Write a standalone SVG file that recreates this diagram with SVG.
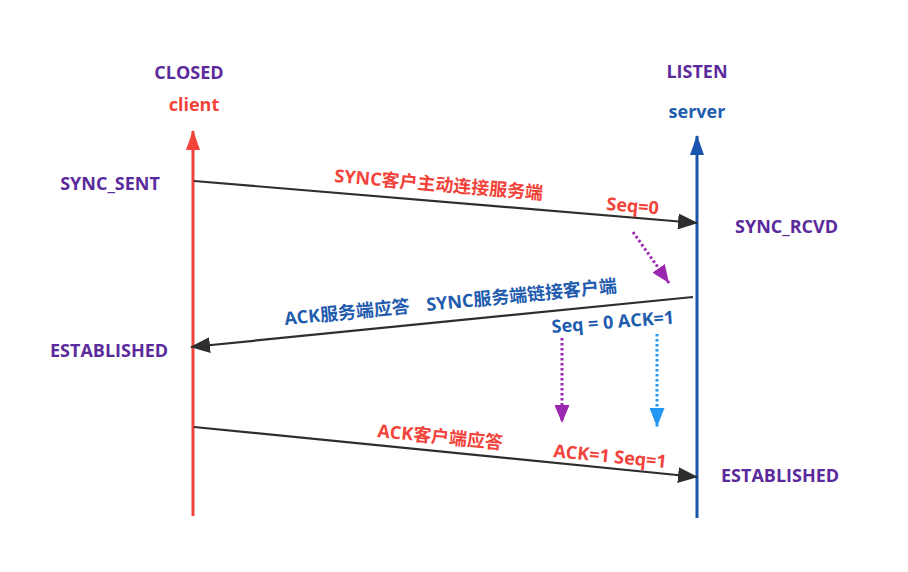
<svg xmlns="http://www.w3.org/2000/svg" width="908" height="572" viewBox="0 0 908 572">
<style>
text{font-family:"Open Sans","Noto Sans CJK SC",sans-serif;font-weight:bold;font-size:18px}
.st{fill:#5b2a9c}
.red{fill:#f2433b}
.blue{fill:#1f5cae}
.conn{stroke:#2e2e2e;stroke-width:2.2;fill:none}
.dot{stroke-width:3;stroke-dasharray:2.5 2.5;fill:none}
</style>
<defs>
<marker id="ah" viewBox="0 0 20 16" refX="19" refY="8" markerWidth="20" markerHeight="16" markerUnits="userSpaceOnUse" orient="auto">
<path d="M0,0 L20,8 L0,16 Z" fill="#2e2e2e"/>
</marker>
<marker id="ahp" viewBox="0 0 18 15" refX="18" refY="7.5" markerWidth="18" markerHeight="15" markerUnits="userSpaceOnUse" orient="auto">
<path d="M0,0 L18,7.5 L0,15 Z" fill="#9b27b0"/>
</marker>
<marker id="ahb" viewBox="0 0 19 15" refX="19" refY="7.5" markerWidth="19" markerHeight="15" markerUnits="userSpaceOnUse" orient="auto">
<path d="M0,0 L19,7.5 L0,15 Z" fill="#2196f3"/>
</marker>
<marker id="ahr" viewBox="0 0 20 14" refX="19" refY="7" markerWidth="20" markerHeight="14" markerUnits="userSpaceOnUse" orient="auto">
<path d="M0,0 L20,7 L0,14 Z" fill="#f2433b"/>
</marker>
<marker id="ahs" viewBox="0 0 20 14" refX="19" refY="7" markerWidth="20" markerHeight="14" markerUnits="userSpaceOnUse" orient="auto">
<path d="M0,0 L20,7 L0,14 Z" fill="#1a55ad"/>
</marker>
</defs>
<rect width="908" height="572" fill="#ffffff"/>

<g id="client">
<line x1="193" y1="516" x2="193" y2="131" stroke="#f2433b" stroke-width="3" marker-end="url(#ahr)"/>
<text x="189" y="79" text-anchor="middle" class="st">CLOSED</text>
<text x="194" y="111" text-anchor="middle" class="red">client</text>
</g>

<g id="server">
<line x1="697" y1="518" x2="697" y2="136" stroke="#1a55ad" stroke-width="3" marker-end="url(#ahs)"/>
<text x="697" y="78" text-anchor="middle" class="st">LISTEN</text>
<text x="697" y="118" text-anchor="middle" class="blue">server</text>
</g>

<g id="states">
<text x="110" y="190" text-anchor="middle" class="st">SYNC_SENT</text>
<text x="735" y="233" class="st">SYNC_RCVD</text>
<text x="50" y="357" class="st">ESTABLISHED</text>
<text x="721" y="482" class="st">ESTABLISHED</text>
</g>

<g id="connectors">
<line class="conn" x1="194" y1="181" x2="697" y2="223" marker-end="url(#ah)"/>
<line class="conn" x1="693" y1="297" x2="191" y2="347" marker-end="url(#ah)"/>
<line class="conn" x1="194" y1="427" x2="697" y2="477" marker-end="url(#ah)"/>
<line class="dot" x1="633" y1="232" x2="669" y2="283" stroke="#9b27b0" marker-end="url(#ahp)"/>
<line class="dot" x1="562" y1="338" x2="562" y2="423" stroke="#9b27b0" marker-end="url(#ahp)"/>
<line class="dot" x1="657" y1="334" x2="657" y2="427" stroke="#2196f3" marker-end="url(#ahb)"/>
</g>

<g id="labels">
<text x="334" y="182" class="red" transform="rotate(4.8 334 182)">SYNC客户主动连接服务端</text>
<text x="606" y="210" class="red" transform="rotate(4.8 606 210)">Seq=0</text>
<text x="285" y="325" class="blue" transform="rotate(-5.7 285 325)">ACK服务端应答</text>
<text x="427" y="311" class="blue" transform="rotate(-5.7 427 311)">SYNC服务端链接客户端</text>
<text x="552" y="333" class="blue" transform="rotate(-4.5 552 333)">Seq = 0 ACK=1</text>
<text x="377" y="437" class="red" transform="rotate(5.6 377 437)">ACK客户端应答</text>
<text x="553" y="457" class="red" transform="rotate(5.6 553 457)">ACK=1 Seq=1</text>
</g>
</svg>
